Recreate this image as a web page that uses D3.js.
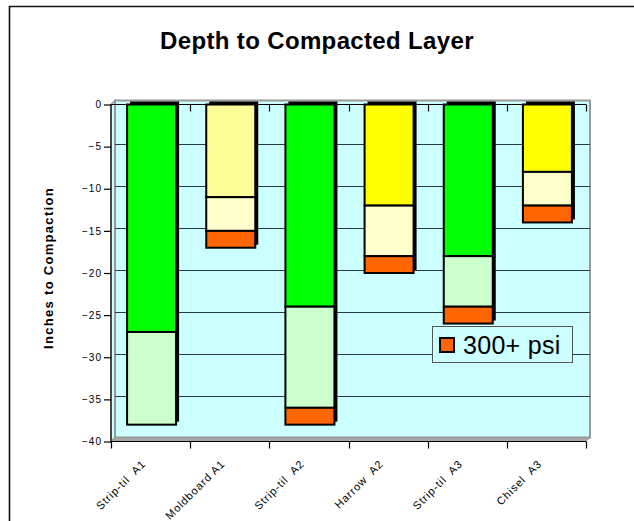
<!DOCTYPE html>
<html>
<head>
<meta charset="utf-8">
<script src="https://cdn.jsdelivr.net/npm/d3@7"></script>
<style>
  html, body { margin: 0; padding: 0; background: #ffffff; }
  svg { display: block; font-family: Arial, "Liberation Sans", sans-serif; }
</style>
</head>
<body>
<svg id="chart" width="634" height="521"></svg>
<script>
// Tillage treatments and depth (inches) of each compaction zone, top to bottom
const categories = ["Strip-til  A1", "Moldboard A1", "Strip-til  A2", "Harrow  A2", "Strip-til  A3", "Chisel  A3"];
const upperZone  = [27, 11, 24, 12, 18, 8];
const middleZone = [11, 4, 12, 6, 6, 4];
const psi300     = [0, 2, 2, 2, 2, 2];
const upperColors  = ["#00FF00", "#FFFF99", "#00FF00", "#FFFF00", "#00FF00", "#FFFF00"];
const middleColors = ["#CCFFCC", "#FFFFCC", "#CCFFCC", "#FFFFCC", "#CCFFCC", "#FFFFCC"];
const psiColor = "#FF6600";
const yTicks = [0, -5, -10, -15, -20, -25, -30, -35, -40];
const legendLabel = "300+ psi";

(function () {
const svg = d3.select("#chart");

// Chart frame
svg.append("path")
  .attr("d", "M9.5,521 L9.5,6.5 L634,6.5")
  .attr("fill", "none").attr("stroke", "#111").attr("stroke-width", 1.6);

// Title
svg.append("text")
  .attr("x", 317).attr("y", 49)
  .attr("text-anchor", "middle")
  .attr("font-size", 24).attr("font-weight", "bold")
  .attr("letter-spacing", 0.35)
  .text("Depth to Compacted Layer");

const pLeft = 111, pRight = 586, pTop = 104.5, pBottom = 441.5, depth = 4;

const y = d3.scaleLinear().domain([-40, 0]).range([pBottom, pTop]);
const x = d3.scaleBand().domain(categories).range([pLeft, pRight]).padding(0);

// 3-D walls
svg.append("polygon")
  .attr("points", [[pLeft, pTop], [pLeft + depth, pTop - depth], [pLeft + depth, pBottom - depth], [pLeft, pBottom]].join(" "))
  .attr("fill", "#CCFFFF").attr("stroke", "#999").attr("stroke-width", 1.5);
svg.append("rect")
  .attr("x", pLeft + depth).attr("y", pTop - depth)
  .attr("width", pRight - pLeft).attr("height", pBottom - pTop)
  .attr("fill", "#CCFFFF").attr("stroke", "#999").attr("stroke-width", 2);
svg.append("polygon")
  .attr("points", [[pLeft, pBottom], [pLeft + depth, pBottom - depth], [pRight + depth, pBottom - depth], [pRight, pBottom]].join(" "))
  .attr("fill", "#A6A6A6").attr("stroke", "#999").attr("stroke-width", 1);

// Gridlines on the back wall
svg.append("g").selectAll("line")
  .data(yTicks.filter(v => v !== 0 && v !== -40))
  .join("line")
  .attr("x1", pLeft + depth).attr("x2", pRight + depth)
  .attr("y1", d => Math.round(y(d) - 3) + 0.5).attr("y2", d => Math.round(y(d) - 3) + 0.5)
  .attr("stroke", "#2a3a3a").attr("stroke-width", 1.2);

// Category axis at the zero line (ticks pointing down)
const bounds = d3.range(categories.length + 1).map(i => pLeft + i * x.step());
svg.append("line")
  .attr("x1", pLeft).attr("x2", pRight).attr("y1", pTop).attr("y2", pTop)
  .attr("stroke", "#000").attr("stroke-width", 1.2);
svg.append("g").selectAll("line").data(bounds.slice(1)).join("line")
  .attr("x1", d => Math.round(d) + 0.5).attr("x2", d => Math.round(d) + 0.5)
  .attr("y1", pTop).attr("y2", pTop + 7)
  .attr("stroke", "#000").attr("stroke-width", 1.2);

// Stacked columns
const barW = 49;
const bars = svg.append("g");
categories.forEach((c, i) => {
  const x0 = x(c) + x.step() / 2 - barW / 2 + 1;
  const segs = [
    { from: 0, to: upperZone[i], color: upperColors[i] },
    { from: upperZone[i], to: upperZone[i] + middleZone[i], color: middleColors[i] },
    { from: upperZone[i] + middleZone[i], to: upperZone[i] + middleZone[i] + psi300[i], color: psiColor }
  ].filter(s => s.to > s.from);
  const total = segs[segs.length - 1].to;
  // side/top shading of the column
  bars.append("rect")
    .attr("x", x0 + 3).attr("y", y(0) - 3)
    .attr("width", barW).attr("height", y(-total) - y(0))
    .attr("fill", "#000");
  bars.selectAll(null).data(segs).join("rect")
    .attr("x", x0).attr("width", barW)
    .attr("y", s => y(-s.from))
    .attr("height", s => y(-s.to) - y(-s.from))
    .attr("fill", s => s.color)
    .attr("stroke", "#000").attr("stroke-width", 2);
});

// Value axis
const yAxis = svg.append("g")
  .attr("transform", `translate(${pLeft},0)`)
  .call(d3.axisLeft(y).tickValues(yTicks).tickSize(7).tickPadding(2).tickFormat(d3.format("d")));
yAxis.select(".domain").attr("stroke", "#000").attr("stroke-width", 1.2).attr("d", `M0,${pTop}V${pBottom}`);
yAxis.selectAll(".tick line").attr("stroke", "#000").attr("stroke-width", 1.2);
yAxis.selectAll(".tick text")
  .attr("font-family", "Arial, 'Liberation Sans', sans-serif")
  .attr("font-size", 10).attr("letter-spacing", 1).attr("fill", "#000");

// Bottom category axis
svg.append("line")
  .attr("x1", pLeft).attr("x2", pRight).attr("y1", pBottom).attr("y2", pBottom)
  .attr("stroke", "#000").attr("stroke-width", 1.2);
svg.append("g").selectAll("line").data(bounds).join("line")
  .attr("x1", d => Math.round(d) + 0.5).attr("x2", d => Math.round(d) + 0.5)
  .attr("y1", pBottom).attr("y2", pBottom + 7)
  .attr("stroke", "#000").attr("stroke-width", 1.2);
svg.append("g").selectAll("text").data(categories).join("text")
  .attr("transform", d => `translate(${x(d) + x.step() / 2 - 4},${pBottom + 23}) rotate(-45)`)
  .attr("text-anchor", "end")
  .attr("font-size", 11).attr("letter-spacing", 0.9)
  .style("white-space", "pre")
  .text(d => d);

// Value axis title
svg.append("text")
  .attr("transform", `translate(53,${268}) rotate(-90)`)
  .attr("text-anchor", "middle")
  .attr("font-size", 13).attr("font-weight", "bold").attr("letter-spacing", 1.3)
  .text("Inches to Compaction");

// Legend
const lg = svg.append("g");
lg.append("rect")
  .attr("x", 432.5).attr("y", 326.5).attr("width", 140).attr("height", 36)
  .attr("fill", "#CCFFFF").attr("stroke", "#555").attr("stroke-width", 1);
lg.append("rect")
  .attr("x", 440).attr("y", 338).attr("width", 14).attr("height", 14)
  .attr("fill", psiColor).attr("stroke", "#000").attr("stroke-width", 2);
lg.append("text")
  .attr("x", 463).attr("y", 354)
  .attr("font-size", 25).attr("letter-spacing", 0.3)
  .text(legendLabel);
})();
</script>
</body>
</html>
